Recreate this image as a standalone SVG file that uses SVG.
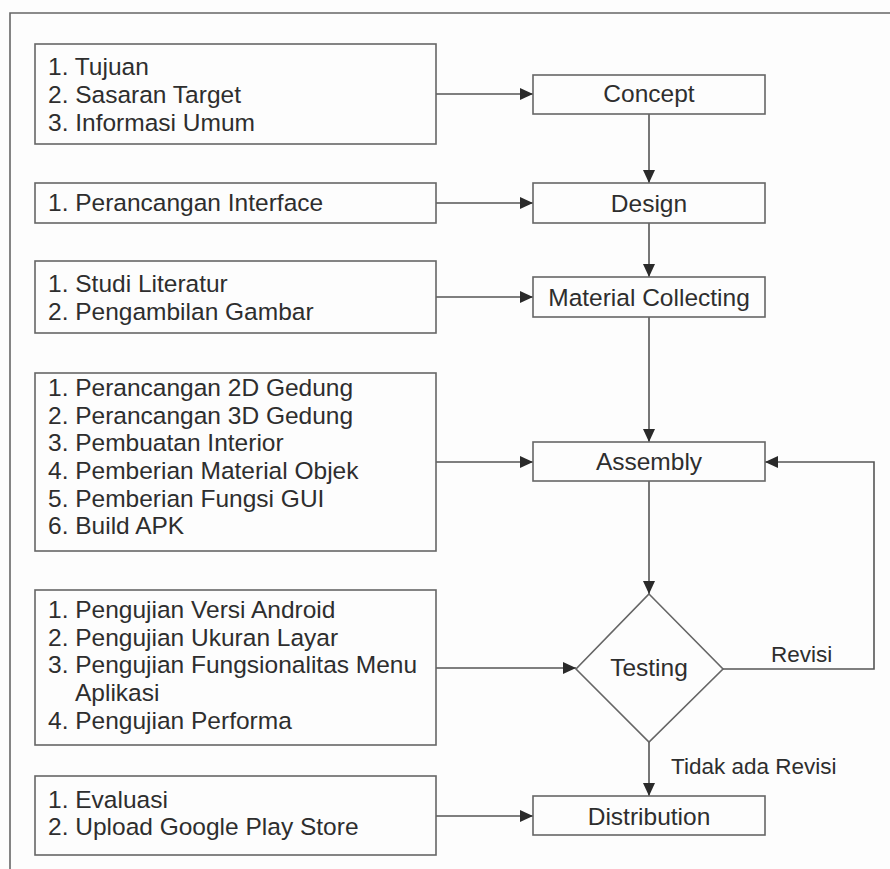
<svg xmlns="http://www.w3.org/2000/svg" width="890" height="869" viewBox="0 0 890 869">
<style>
.bg{fill:#fdfdfd}
.frame{fill:none;stroke:#666;stroke-width:1.6}
.box{fill:#fdfdfd;stroke:#666;stroke-width:1.6}
.t{font-family:"Liberation Sans",Arial,Helvetica,sans-serif;font-size:24.5px;fill:#2e2e2e}
.c{text-anchor:middle}
.lbl{font-family:"Liberation Sans",Arial,Helvetica,sans-serif;font-size:22.5px;fill:#2e2e2e}
.ln{fill:none;stroke:#555;stroke-width:1.6}
</style>
<defs>
<marker id="ah" markerUnits="userSpaceOnUse" markerWidth="14" markerHeight="12" refX="13" refY="6" orient="auto">
<path d="M0,0 L13,6 L0,12 Z" fill="#2a2a2a"/>
</marker>
</defs>
<rect class="bg" x="0" y="0" width="890" height="869"/>
<path class="frame" d="M10,869 L10,13 L890,13"/>

<g id="connectors">
<line class="ln" x1="436" y1="94" x2="533" y2="94" marker-end="url(#ah)"/>
<line class="ln" x1="436" y1="203" x2="533" y2="203" marker-end="url(#ah)"/>
<line class="ln" x1="436" y1="297" x2="533" y2="297" marker-end="url(#ah)"/>
<line class="ln" x1="436" y1="462" x2="533" y2="462" marker-end="url(#ah)"/>
<line class="ln" x1="436" y1="668" x2="576" y2="668" marker-end="url(#ah)"/>
<line class="ln" x1="436" y1="816" x2="533" y2="816" marker-end="url(#ah)"/>
<line class="ln" x1="649" y1="114" x2="649" y2="183" marker-end="url(#ah)"/>
<line class="ln" x1="649" y1="223" x2="649" y2="277" marker-end="url(#ah)"/>
<line class="ln" x1="649" y1="317" x2="649" y2="442" marker-end="url(#ah)"/>
<line class="ln" x1="649" y1="481" x2="649" y2="594" marker-end="url(#ah)"/>
<line class="ln" x1="649" y1="742" x2="649" y2="796" marker-end="url(#ah)"/>
<polyline class="ln" points="723,669 874,669 874,462 765,462" marker-end="url(#ah)"/>
<text class="lbl" x="771" y="662">Revisi</text>
<text class="lbl" x="671" y="774">Tidak ada Revisi</text>
</g>

<g id="inputs-concept">
<rect class="box" x="35" y="44" width="401" height="100"/>
<text class="t" x="48" y="75">1. Tujuan</text>
<text class="t" x="48" y="103">2. Sasaran Target</text>
<text class="t" x="48" y="131">3. Informasi Umum</text>
</g>
<g id="inputs-design">
<rect class="box" x="35" y="183" width="401" height="40"/>
<text class="t" x="48" y="211">1. Perancangan Interface</text>
</g>
<g id="inputs-material">
<rect class="box" x="35" y="261" width="401" height="72"/>
<text class="t" x="48" y="292">1. Studi Literatur</text>
<text class="t" x="48" y="320">2. Pengambilan Gambar</text>
</g>
<g id="inputs-assembly">
<rect class="box" x="35" y="373" width="401" height="178"/>
<text class="t" x="48" y="396">1. Perancangan 2D Gedung</text>
<text class="t" x="48" y="424">2. Perancangan 3D Gedung</text>
<text class="t" x="48" y="451">3. Pembuatan Interior</text>
<text class="t" x="48" y="479">4. Pemberian Material Objek</text>
<text class="t" x="48" y="507">5. Pemberian Fungsi GUI</text>
<text class="t" x="48" y="534">6. Build APK</text>
</g>
<g id="inputs-testing">
<rect class="box" x="35" y="590" width="401" height="155"/>
<text class="t" x="48" y="618">1. Pengujian Versi Android</text>
<text class="t" x="48" y="646">2. Pengujian Ukuran Layar</text>
<text class="t" x="48" y="673">3. Pengujian Fungsionalitas Menu</text>
<text class="t" x="75" y="701">Aplikasi</text>
<text class="t" x="48" y="729">4. Pengujian Performa</text>
</g>
<g id="inputs-distribution">
<rect class="box" x="35" y="776" width="401" height="79"/>
<text class="t" x="48" y="808">1. Evaluasi</text>
<text class="t" x="48" y="835">2. Upload Google Play Store</text>
</g>

<g id="concept">
<rect class="box" x="533" y="75" width="232" height="39"/>
<text class="t c" x="649" y="102">Concept</text>
</g>
<g id="design">
<rect class="box" x="533" y="183" width="232" height="40"/>
<text class="t c" x="649" y="212">Design</text>
</g>
<g id="material-collecting">
<rect class="box" x="533" y="277" width="232" height="40"/>
<text class="t c" x="649" y="306">Material Collecting</text>
</g>
<g id="assembly">
<rect class="box" x="533" y="442" width="232" height="39"/>
<text class="t c" x="649" y="470">Assembly</text>
</g>
<g id="testing">
<polygon class="box" points="649,594 723,669 649,742 576,669"/>
<text class="t c" x="649" y="676">Testing</text>
</g>
<g id="distribution">
<rect class="box" x="533" y="796" width="232" height="39"/>
<text class="t c" x="649" y="825">Distribution</text>
</g>
</svg>
